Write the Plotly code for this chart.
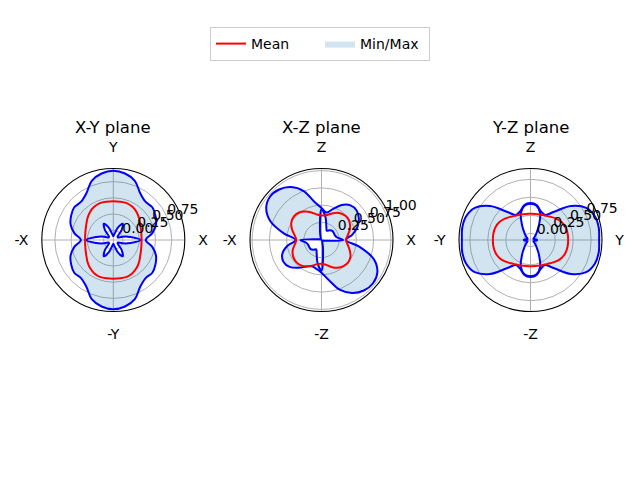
import plotly.graph_objects as go

THETA = list(range(0, 360, 10))

TITLES = ["X-Y plane", "X-Z plane", "Y-Z plane"]
ANG_TICKS = [["X", "Y", "-X", "-Y"], ["X", "Z", "-X", "-Z"], ["Y", "Z", "-Y", "-Z"]]
ANG_VALS = [0, 90, 180, 270]

# X-Y plane
xy_mean = [0.286, 0.29, 0.305, 0.33, 0.37, 0.41, 0.44, 0.455, 0.45, 0.446,
           0.45, 0.455, 0.44, 0.41, 0.37, 0.33, 0.305, 0.29, 0.286, 0.29,
           0.305, 0.33, 0.37, 0.41, 0.44, 0.455, 0.45, 0.446, 0.45, 0.455,
           0.44, 0.41, 0.37, 0.33, 0.305, 0.29]
xy_max = [0.35, 0.46, 0.55, 0.60, 0.635, 0.62, 0.68, 0.82, 0.89, 0.915,
          0.89, 0.82, 0.68, 0.62, 0.635, 0.60, 0.55, 0.46, 0.35, 0.46,
          0.55, 0.60, 0.635, 0.62, 0.68, 0.82, 0.89, 0.915, 0.89, 0.82,
          0.68, 0.62, 0.635, 0.60, 0.55, 0.46]
xy_min = [0.27, 0.12, 0.0, -0.07, -0.06, 0.05, 0.14, 0.05, -0.06, -0.09,
          -0.06, 0.05, 0.14, 0.05, -0.06, -0.07, 0.0, 0.12, 0.27, 0.12,
          0.0, -0.07, -0.06, 0.05, 0.14, 0.05, -0.06, -0.09, -0.06, 0.05,
          0.14, 0.05, -0.06, -0.07, 0.0, 0.12]

# X-Z plane
xz_mean = [0.35, 0.38, 0.43, 0.47, 0.49, 0.48, 0.45, 0.40, 0.36, 0.35,
           0.37, 0.42, 0.47, 0.51, 0.52, 0.50, 0.45, 0.39, 0.36, 0.39,
           0.44, 0.47, 0.48, 0.47, 0.44, 0.39, 0.35, 0.34, 0.36, 0.41,
           0.46, 0.49, 0.50, 0.48, 0.43, 0.38]
xz_max = [0.35, 0.45, 0.55, 0.62, 0.66, 0.65, 0.58, 0.47, 0.40, 0.46,
          0.55, 0.75, 0.88, 0.95, 0.97, 0.92, 0.78, 0.55, 0.37, 0.50,
          0.60, 0.63, 0.60, 0.52, 0.44, 0.40, 0.42, 0.47, 0.58, 0.76,
          0.88, 0.95, 0.97, 0.93, 0.80, 0.55]
xz_min = [0.31, 0.22, 0.20, 0.20, 0.20, 0.18, 0.15, 0.20, 0.33, 0.44,
          0.12, 0.03, 0.01, 0.01, 0.01, 0.01, 0.02, 0.06, 0.30, 0.22,
          0.20, 0.20, 0.20, 0.18, 0.15, 0.20, 0.33, 0.44, 0.12, 0.03,
          0.01, 0.01, 0.01, 0.01, 0.02, 0.06]

# Y-Z plane
yz_mean = [0.43, 0.43, 0.425, 0.405, 0.37, 0.33, 0.30, 0.285, 0.275, 0.27,
           0.275, 0.285, 0.30, 0.33, 0.37, 0.405, 0.425, 0.43, 0.43, 0.43,
           0.425, 0.405, 0.37, 0.33, 0.30, 0.285, 0.275, 0.27, 0.275, 0.285,
           0.30, 0.33, 0.37, 0.405, 0.425, 0.43]
yz_max = [0.86, 0.87, 0.86, 0.80, 0.64, 0.42, 0.31, 0.33, 0.40, 0.42,
          0.40, 0.33, 0.31, 0.42, 0.64, 0.80, 0.86, 0.87, 0.86, 0.87,
          0.86, 0.80, 0.64, 0.42, 0.31, 0.33, 0.40, 0.42, 0.40, 0.33,
          0.31, 0.42, 0.64, 0.80, 0.86, 0.87]
yz_min = [0.0, -0.03, -0.05, -0.04, -0.01, 0.04, 0.14, 0.30, 0.39, 0.41,
          0.39, 0.30, 0.14, 0.04, -0.01, -0.04, -0.05, -0.03, 0.0, -0.03,
          -0.05, -0.04, -0.01, 0.04, 0.14, 0.30, 0.39, 0.41, 0.39, 0.30,
          0.14, 0.04, -0.01, -0.04, -0.05, -0.03]

RADIAL_TICKS = [[0.0, 0.25, 0.5, 0.75], [0.25, 0.5, 0.75, 1.0], [0.0, 0.25, 0.5, 0.75]]
RADIAL_RANGES = [[-0.149, 0.951], [-0.005, 1.031], [-0.093, 0.90]]
RLABEL_ANGLE = 22.5

PLANES = [(xy_mean, xy_max, xy_min), (xz_mean, xz_max, xz_min), (yz_mean, yz_max, yz_min)]

# layout geometry (pixels)
W, H = 640, 480
CENTERS_X = [113.3, 321.5, 530.5]
CY = 240
RAD = 71.5
FONT = "DejaVu Sans"


def closed(v):
    return list(v) + [v[0]]


TH = THETA + [360]

fig = go.Figure()
for i, (mean, mx, mn) in enumerate(PLANES):
    sp = "polar" if i == 0 else f"polar{i+1}"
    fig.add_trace(go.Scatterpolar(r=closed(mn), theta=TH, mode="lines", subplot=sp,
                                  line=dict(width=0, shape="spline"), showlegend=False,
                                  hoverinfo="skip"))
    fig.add_trace(go.Scatterpolar(r=closed(mx), theta=TH, mode="lines", subplot=sp,
                                  line=dict(width=0, shape="spline"), fill="tonext",
                                  fillcolor="rgba(31,119,180,0.2)", name="Min/Max",
                                  showlegend=(i == 0), legendrank=2))
    fig.add_trace(go.Scatterpolar(r=closed(mx), theta=TH, mode="lines", subplot=sp,
                                  line=dict(width=2, color="#0000ff", shape="spline"),
                                  showlegend=False))
    fig.add_trace(go.Scatterpolar(r=closed(mn), theta=TH, mode="lines", subplot=sp,
                                  line=dict(width=2, color="#0000ff", shape="spline"),
                                  showlegend=False))
    fig.add_trace(go.Scatterpolar(r=closed(mean), theta=TH, mode="lines", subplot=sp,
                                  line=dict(width=2, color="#ff0000", shape="spline"),
                                  name="Mean", showlegend=(i == 0), legendrank=1))
    # radial tick labels, anchored left/bottom like matplotlib
    ticks = RADIAL_TICKS[i]
    fig.add_trace(go.Scatterpolar(r=ticks, theta=[RLABEL_ANGLE] * len(ticks), mode="text",
                                  subplot=sp, text=[f"{v:.2f}" for v in ticks],
                                  textposition="top right", cliponaxis=False,
                                  textfont=dict(family=FONT, size=14, color="black"),
                                  showlegend=False, hoverinfo="skip"))

    cx = CENTERS_X[i]
    polar = dict(
        domain=dict(x=[(cx - RAD) / W, (cx + RAD) / W],
                    y=[(H - CY - RAD) / H, (H - CY + RAD) / H]),
        bgcolor="white",
        angularaxis=dict(direction="counterclockwise", rotation=0,
                         tickmode="array", tickvals=ANG_VALS, ticktext=ANG_TICKS[i],
                         showgrid=True, gridcolor="#b0b0b0", gridwidth=1,
                         showline=True, linecolor="black", linewidth=1.1,
                         ticks="outside", ticklen=10, tickcolor="rgba(0,0,0,0)",
                         tickfont=dict(family=FONT, size=14, color="black")),
        radialaxis=dict(range=RADIAL_RANGES[i], angle=RLABEL_ANGLE,
                        tickmode="array", tickvals=ticks,
                        showticklabels=False, showline=False, ticks="",
                        showgrid=True, gridcolor="#b0b0b0", gridwidth=1),
    )
    fig.update_layout(**{sp: polar})
    fig.add_annotation(text=TITLES[i], x=cx / W, y=1 - 128 / H, xref="paper", yref="paper",
                       xanchor="center", yanchor="middle", showarrow=False,
                       font=dict(family=FONT, size=16.5, color="black"))

fig.update_layout(
    width=W, height=H,
    margin=dict(l=0, r=0, t=0, b=0),
    paper_bgcolor="white", plot_bgcolor="white",
    font=dict(family=FONT, size=14, color="black"),
    legend=dict(orientation="h", x=0.5, xanchor="center", y=1 - 27 / H, yanchor="top",
                bordercolor="#cccccc", borderwidth=1, bgcolor="white",
                font=dict(family=FONT, size=14), entrywidth=64, itemwidth=30),
)

fig.write_html("out.html", config={"displayModeBar": False},
               post_script="document.body.style.margin='0px';")
